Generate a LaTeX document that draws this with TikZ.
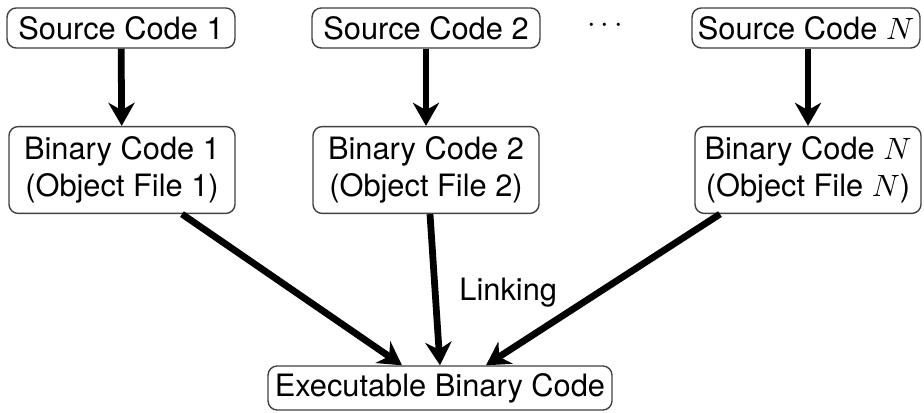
\documentclass[tikz,border=0pt]{standalone}
\usepackage{fontspec}
\setmainfont{TeX Gyre Heros}
\usetikzlibrary{arrows.meta, calc}

\begin{document}
\begin{tikzpicture}[
    x=0.3247pt, y=-0.3247pt,
    box/.style={draw=black!75, line width=0.45pt, rounded corners=3pt, font=\normalsize, inner sep=0pt},
    srcbox/.style={box, minimum width=74pt, minimum height=13pt},
    binbox/.style={box, minimum width=73.4pt, minimum height=28.2pt, align=center},
    exebox/.style={box, minimum width=111.7pt, minimum height=14.3pt},
    link/.style={-{Stealth[length=7.5pt, width=8.5pt, inset=2.4pt]}, line width=2.2pt}
    ]
    \useasboundingbox (0, 0) rectangle (924, 413);

    %Nodes
    \node[srcbox] at (121, 28) (s1) {Source Code 1};
    \node[srcbox] at (426, 28) (s2) {Source Code 2};
    \node at (605, 26) (dots) {$\cdots$};
    \node[srcbox] at (806, 28) (sn) {Source Code $N$};

    \node[binbox] at (122, 170) (b1) {Binary Code 1\\(Object File 1)};
    \node[binbox] at (426, 170) (b2) {Binary Code 2\\(Object File 2)};
    \node[binbox] at (808, 170) (bn) {Binary Code $N$\\(Object File $N$)};

    \node[exebox] at (440, 388) (exe) {Executable Binary Code};

    %Lines
    \draw[link] (s1) -- (b1);
    \draw[link] (s2) -- (b2);
    \draw[link] (sn.south -| bn) -- (bn);

    \draw[link] ($(b1.south)+(60, 0)$) -- ($(exe.north)+(-38, 0)$);
    \draw[link] ($(b2.south)+(4, 0)$) -- (exe.north)
        node[midway, right=3.5pt, yshift=-0.8pt] (lk) {Linking};
    \draw[link] ($(bn.south)+(-88, 0)$) -- ($(exe.north)+(46, 0)$);
\end{tikzpicture}
\end{document}
